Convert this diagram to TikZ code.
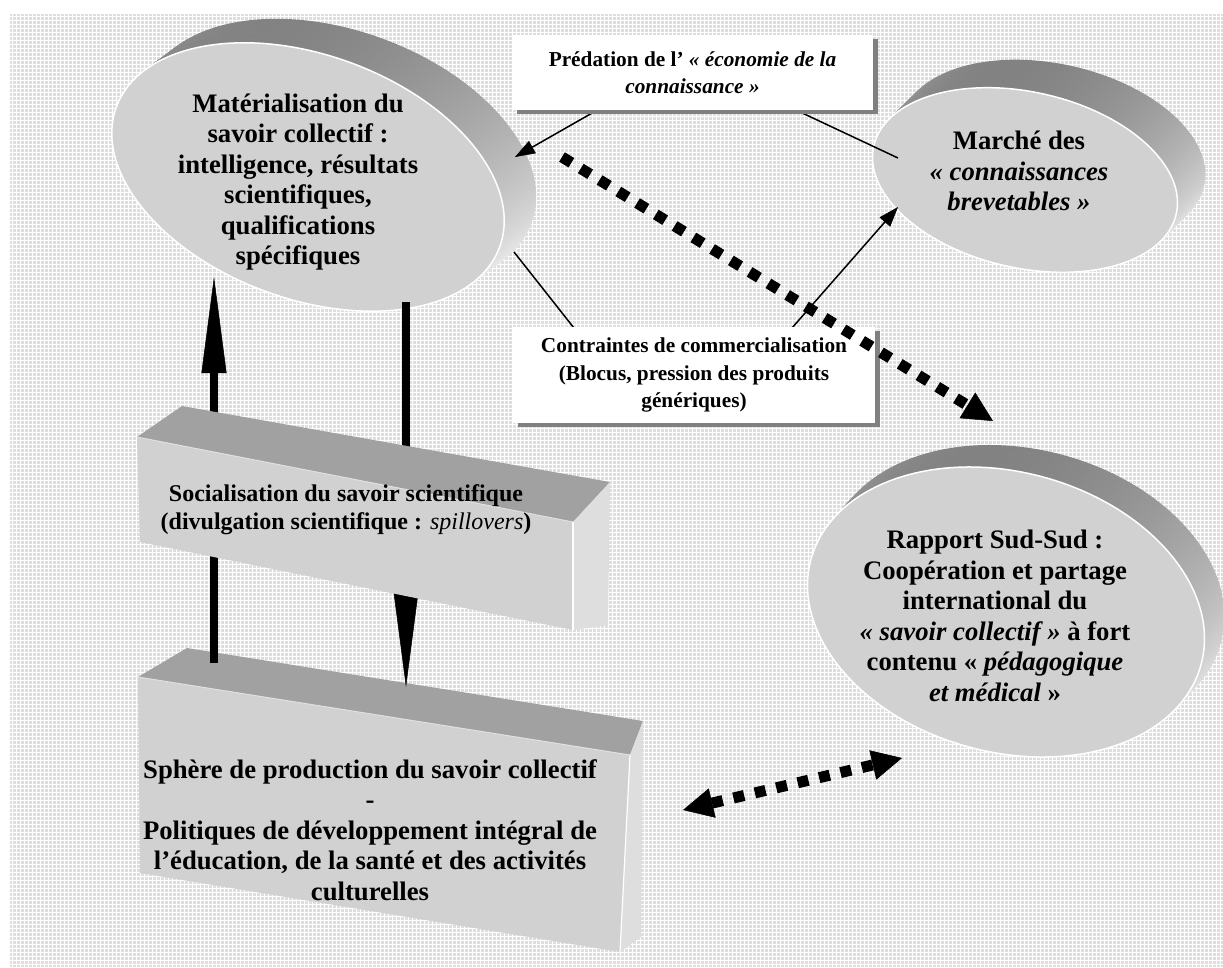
\documentclass[tikz,border=0pt]{standalone}
\usepackage{fontspec}
\setmainfont{Liberation Serif}
\usetikzlibrary{arrows.meta,shadows}
\newcommand\diskshape[7]{%
  \foreach \i in {20,19,...,1}{%
    \shade[top color=black!52, middle color=black!30, bottom color=white, shading angle=0,
      shift={(#1+\i*#6/20, #2+\i*#7/20)}, rotate=#5]
      (0,0) ellipse [x radius=#3, y radius=#4];
  }%
  \fill[fill=black!18, draw=white, line width=1.5pt, shift={(#1,#2)}, rotate=#5]
    (0,0) ellipse [x radius=#3, y radius=#4];
}
\begin{document}
\begin{tikzpicture}[x=1pt,y=-1pt,
  lbl/.style={fill=white, inner sep=0pt, align=center,
    font=\fontsize{21.3}{27.5}\selectfont\bfseries,
    general shadow={fill=black!50, shadow xshift=5pt, shadow yshift=-4pt}},
  elltext/.style={align=center, inner sep=0pt,
    font=\fontsize{26.7}{30.5}\selectfont\bfseries},
  boxtext/.style={align=center, inner sep=0pt,
    font=\fontsize{24}{28}\selectfont\bfseries},
  thinline/.style={line width=1.5pt, black},
  thinarrow/.style={thinline, -{Triangle[length=20pt,width=14pt,line width=0.5pt]}},
  bigarrow/.style={line width=8pt, black, -{Triangle[length=96pt,width=25pt,line width=0.5pt]}},
  dotline/.style={line width=11pt, black, dash pattern=on 11pt off 11pt},
  dotarrow/.style={dotline, -{Triangle[length=30pt,width=30pt,line width=0.5pt]}},
  dotboth/.style={dotline, {Triangle[length=30pt,width=30pt,line width=0.5pt]}-{Triangle[length=30pt,width=30pt,line width=0.5pt]}},
  frontface/.style={fill=black!18},
  topface/.style={fill=black!37},
  sideface/.style={fill=black!13},
]
\useasboundingbox (0,0) rectangle (1223,967);
\fill[white] (0,0) rectangle (1223,967);
% background pattern
\fill[black!13] (10,14) rectangle (1223,967);
\draw[white, line width=0.8pt]
  \foreach \x in {12,16,...,1222}{(\x,14) -- (\x,967)}
  \foreach \y in {16,20,...,966}{(10,\y) -- (1223,\y)};

% 3D discs
\diskshape{308}{177}{204}{122}{-20}{32}{-24}
\diskshape{1025}{180}{155}{88}{-12.6}{28}{-28}
\diskshape{1006}{612}{202}{140}{-15}{20}{-22}

\node[elltext] (e1) at (298,182) {Matérialisation du\\savoir collectif :\\intelligence, résultats\\scientifiques,\\qualifications\\spécifiques};
\node[elltext] (e2) at (1019,171) {Marché des\\\textit{« connaissances}\\\textit{brevetables »}};
\node[elltext] (e3) at (995,616) {Rapport Sud-Sud :\\Coopération et partage\\international du\\\textit{« savoir collectif »} à fort\\contenu « \textit{pédagogique}\\\textit{et médical} »};

% connector anchors
\coordinate (mW) at (898,158);
\coordinate (e1NE) at (515,157);
\coordinate (e1E) at (514,252);
\coordinate (mSW) at (898,207);
\coordinate (p1) at (732,80);
\coordinate (p2) at (650,80);
\coordinate (q1) at (600,361);
\coordinate (q2) at (763,361);
\draw[thinarrow] (mW) -- (p1) -- (p2) -- (e1NE);
\draw[thinarrow] (e1E) -- (q1) -- (q2) -- (mSW);

\node[lbl, minimum width=361pt, minimum height=75pt] (pred) at (692.5,72.5)
  {Prédation de l’ \textit{« économie de la}\\\textit{connaissance »}};
\node[lbl, minimum width=362pt, minimum height=96pt] (contr) at (694,375)
  {Contraintes de commercialisation\\(Blocus, pression des produits\\génériques)};

% Sphere box
\fill[topface] (138,677) -- (187,648) -- (643,721) -- (630,755) -- cycle;
\fill[frontface] (138,677) -- (630,755) -- (620,952) -- (140,873) -- cycle;
\fill[sideface] (630,755) -- (643,721) -- (641,937) -- (620,952) -- cycle;
\draw[white, line width=1.2pt] (630,755) -- (620,952);
\draw[black!12, line width=1pt] (138,677) -- (630,755);
\node[elltext] (sph) at (370,830) {Sphère de production du savoir collectif\\-\\Politiques de développement intégral de\\l’éducation, de la santé et des activités\\culturelles};

% thick vertical arrows
\coordinate (upS) at (214,663);
\coordinate (upE) at (214,277);
\coordinate (dnS) at (406,302);
\coordinate (dnE) at (406,687);
\draw[bigarrow] (upS) -- (upE);
\draw[bigarrow] (dnS) -- (dnE);

% Socialisation box
\fill[topface] (137,437) -- (182,406) -- (610,482) -- (573,522) -- cycle;
\fill[frontface] (137,437) -- (573,522) -- (573,630) -- (140,542) -- cycle;
\fill[sideface] (573,522) -- (610,482) -- (608,625) -- (573,630) -- cycle;
\draw[white, line width=1.2pt] (573,522) -- (573,630);
\draw[black!12, line width=1pt] (137,437) -- (573,522);
\node[boxtext] (soc) at (346,510) {Socialisation du savoir scientifique\\(divulgation scientifique : {\mdseries\itshape spillovers})};

% dotted arrows
\coordinate (d1s) at (562,157);
\coordinate (d1e) at (993,421);
\draw[dotarrow] (d1s) -- (d1e);
\coordinate (d2s) at (683,810);
\coordinate (d2e) at (902,758);
\draw[dotboth] (d2s) -- (d2e);
\end{tikzpicture}
\end{document}
